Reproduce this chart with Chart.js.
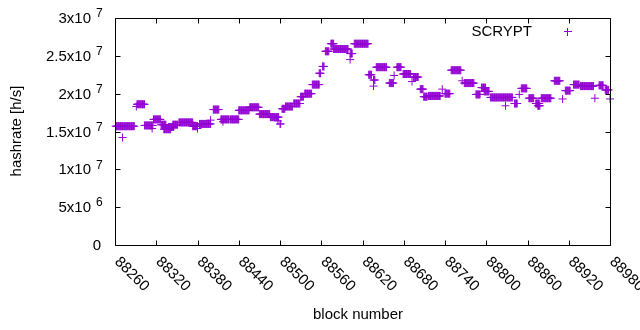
<!DOCTYPE html>
<html>
<head>
<meta charset="utf-8">
<script src="https://cdn.jsdelivr.net/npm/chart.js@4/dist/chart.umd.min.js"></script>
<style>
  body { margin: 0; background: #fff; }
  #wrap { width: 640px; height: 330px; }
</style>
</head>
<body>
<div id="wrap"><canvas id="hashChart" width="640" height="330"></canvas></div>
<script>
// runs of blocks that share the same difficulty-derived hashrate
const runStart = [88261, 88271, 88291, 88292, 88303, 88314, 88316, 88327, 88331, 88338,
  88344, 88353, 88373, 88380, 88383, 88399, 88403, 88414, 88417, 88428,
  88440, 88456, 88470, 88486, 88497, 88500, 88503, 88508, 88520, 88530,
  88536, 88547, 88557, 88562, 88566, 88574, 88578, 88602, 88602, 88608,
  88629, 88636, 88636, 88640, 88659, 88666, 88670, 88679, 88692, 88694,
  88704, 88709, 88716, 88736, 88740, 88749, 88765, 88768, 88785, 88793,
  88797, 88806, 88828, 88841, 88848, 88851, 88862, 88872, 88875, 88880,
  88899, 88911, 88915, 88927, 88937, 88958, 88964, 88973, 88980];
const runEnd = [88288, 88271, 88291, 88303, 88315, 88314, 88326, 88334, 88341, 88345,
  88351, 88373, 88380, 88380, 88399, 88399, 88411, 88426, 88417, 88440,
  88455, 88469, 88485, 88498, 88497, 88501, 88507, 88518, 88529, 88534,
  88546, 88557, 88559, 88564, 88571, 88578, 88599, 88605, 88602, 88628,
  88633, 88638, 88636, 88655, 88665, 88666, 88676, 88690, 88692, 88701,
  88708, 88714, 88733, 88736, 88747, 88763, 88765, 88782, 88791, 88799,
  88804, 88838, 88828, 88845, 88848, 88859, 88869, 88877, 88878, 88894,
  88907, 88911, 88922, 88935, 88956, 88958, 88970, 88978, 88980];
const runValue = [15.7e6, 14.2e6, 18.3e6, 18.6e6, 15.8e6, 15.4e6, 16.6e6, 15.9e6, 15.3e6, 15.6e6,
  15.9e6, 16.2e6, 15.7e6, 15.4e6, 16.0e6, 16.5e6, 17.9e6, 16.6e6, 16.3e6, 16.6e6,
  17.8e6, 18.2e6, 17.3e6, 16.9e6, 16.4e6, 16.0e6, 18.0e6, 18.3e6, 18.7e6, 19.6e6,
  20.0e6, 21.2e6, 22.7e6, 23.6e6, 25.6e6, 26.6e6, 25.9e6, 25.3e6, 24.5e6, 26.6e6,
  22.5e6, 21.8e6, 21.0e6, 23.5e6, 21.4e6, 22.4e6, 23.5e6, 22.6e6, 21.6e6, 22.2e6,
  20.6e6, 19.6e6, 19.7e6, 20.6e6, 20.0e6, 23.1e6, 21.7e6, 21.4e6, 19.9e6, 20.8e6,
  20.3e6, 19.5e6, 18.4e6, 18.7e6, 19.9e6, 20.7e6, 19.4e6, 18.7e6, 18.4e6, 19.4e6,
  21.7e6, 19.3e6, 20.4e6, 21.2e6, 21.0e6, 19.4e6, 21.1e6, 20.5e6, 19.3e6];

const xTicks = [88260, 88320, 88380, 88440, 88500, 88560, 88620, 88680, 88740, 88800, 88860, 88920, 88980];
const yTicks = [0, 5e6, 1e7, 1.5e7, 2e7, 2.5e7, 3e7];

const seriesName = "SCRYPT";
const purple = "#9400d3";
const font = "'Liberation Sans', Arial, sans-serif";

const points = [];
for (let i = 0; i < runStart.length; i++) {
  for (let b = runStart[i]; b <= runEnd[i]; b++) {
    points.push({ x: b, y: runValue[i] });
  }
}

// gnuplot-ish frame, inward ticks, labels, key
const frame = {
  id: "frame",
  afterDraw(chart) {
    const ctx = chart.ctx;
    const a = chart.chartArea;
    const xs = chart.scales.x;
    const ys = chart.scales.y;
    const L = Math.round(a.left) + 0.5, R = Math.round(a.right) + 0.5;
    const T = Math.round(a.top) + 0.5, B = Math.round(a.bottom) + 0.5;
    ctx.save();
    ctx.strokeStyle = "#000";
    ctx.lineWidth = 1;
    ctx.beginPath();
    ctx.rect(L, T, R - L, B - T);
    yTicks.forEach(v => {
      const y = Math.round(ys.getPixelForValue(v)) + 0.5;
      ctx.moveTo(L, y); ctx.lineTo(L + 5, y);
      ctx.moveTo(R, y); ctx.lineTo(R - 5, y);
    });
    xTicks.forEach(v => {
      const x = Math.round(xs.getPixelForValue(v)) + 0.5;
      ctx.moveTo(x, B); ctx.lineTo(x, B - 5);
      ctx.moveTo(x, T); ctx.lineTo(x, T + 5);
    });
    ctx.stroke();

    ctx.fillStyle = "#000";
    // y tick labels like 2.5x10^7
    yTicks.forEach(v => {
      const y = ys.getPixelForValue(v);
      if (v === 0) {
        ctx.font = "15px " + font;
        ctx.textAlign = "right";
        ctx.textBaseline = "middle";
        ctx.fillText("0", 101, y + 1);
        return;
      }
      const e = Math.floor(Math.log10(v));
      const m = +(v / Math.pow(10, e)).toFixed(2);
      ctx.font = "15px " + font;
      ctx.textAlign = "right";
      ctx.textBaseline = "middle";
      ctx.fillText(m + "x10", 91, y + 1);
      ctx.font = "12px " + font;
      ctx.textAlign = "left";
      ctx.fillText(String(e), 96, y - 4);
    });

    // x tick labels rotated down-right
    ctx.font = "15px " + font;
    ctx.textAlign = "left";
    ctx.textBaseline = "middle";
    xTicks.forEach(v => {
      const x = xs.getPixelForValue(v);
      ctx.save();
      ctx.translate(x + 2, B + 14);
      ctx.rotate(Math.PI / 4);
      ctx.fillText(String(v), 0, 0);
      ctx.restore();
    });

    // axis titles
    ctx.font = "15px " + font;
    ctx.textAlign = "center";
    ctx.textBaseline = "middle";
    ctx.fillText("block number", 358, 315);
    ctx.save();
    ctx.translate(17, 131);
    ctx.rotate(-Math.PI / 2);
    ctx.fillText("hashrate [h/s]", 0, 0);
    ctx.restore();

    // key
    ctx.textAlign = "right";
    ctx.fillText(seriesName, 532, 32);
    ctx.strokeStyle = purple;
    ctx.beginPath();
    ctx.moveTo(564, 31.5); ctx.lineTo(572, 31.5);
    ctx.moveTo(567.5, 28); ctx.lineTo(567.5, 36);
    ctx.stroke();
    ctx.restore();
  }
};

new Chart(document.getElementById("hashChart").getContext("2d"), {
  type: "scatter",
  data: {
    datasets: [{
      label: seriesName,
      data: points,
      pointStyle: "cross",
      pointRadius: 4,
      pointBorderWidth: 1,
      borderColor: purple,
      backgroundColor: purple,
      clip: false
    }]
  },
  options: {
    responsive: false,
    animation: false,
    events: [],
    layout: { padding: { left: 115, right: 30, top: 18, bottom: 85 } },
    plugins: { legend: { display: false }, tooltip: { enabled: false } },
    scales: {
      x: { type: "linear", display: false, min: 88260, max: 88980 },
      y: { type: "linear", display: false, min: 0, max: 3e7 }
    }
  },
  plugins: [frame]
});
</script>
</body>
</html>
